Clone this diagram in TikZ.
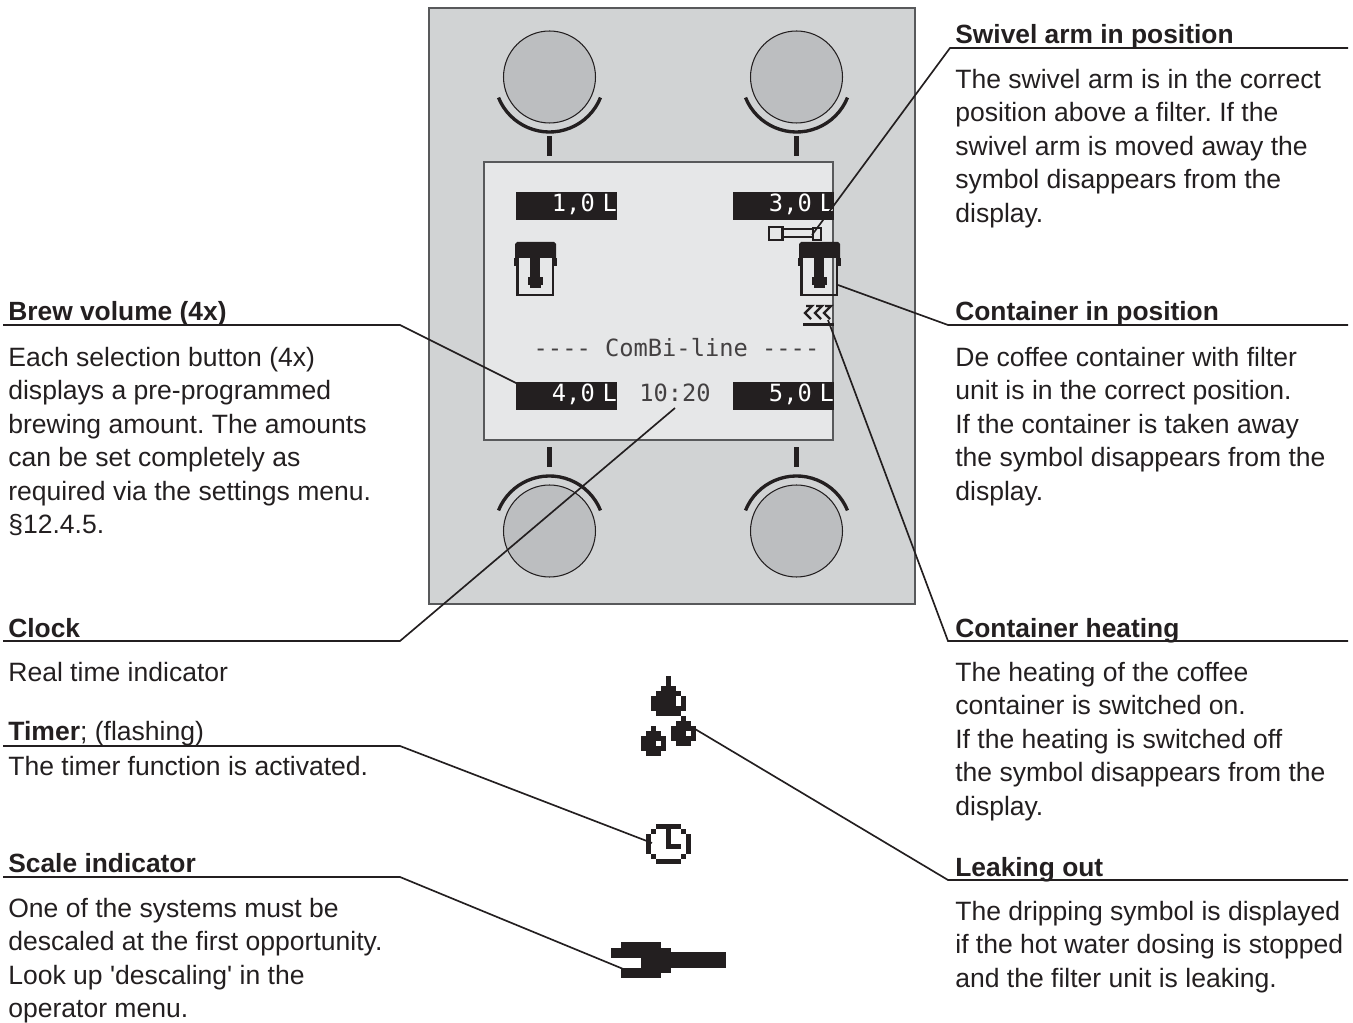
\documentclass[tikz,border=0pt]{standalone}
\usepackage{fontspec}
\setmainfont{Liberation Sans}
\newfontfamily\lcdfont{DejaVu Sans Mono}
\definecolor{ink}{HTML}{231F20}
\definecolor{panel}{HTML}{D1D3D4}
\definecolor{screen}{HTML}{E6E7E8}
\definecolor{knob}{HTML}{BCBEC0}
\definecolor{frame}{HTML}{58595B}
\begin{document}
\frenchspacing
\begin{tikzpicture}[x=0.02cm,y=-0.02cm]
\tikzstyle{Head} = [anchor=base west, inner sep=0, font={\fontsize{15}{19}\selectfont\bfseries}, text=ink]
\tikzstyle{Body} = [anchor=north west, inner sep=0, align=left, font={\fontsize{15.1}{19}\selectfont}, text=ink]
\tikzstyle{Bar} = [fill=ink, text=white, inner sep=0, minimum width=2.02cm, minimum height=0.56cm, text width=2.02cm, text height=10pt, text depth=3.2pt, align=right, font={\lcdfont\fontsize{13.5}{16}\selectfont}]
\tikzstyle{Lcd} = [inner sep=0, text=ink!85, font={\lcdfont\fontsize{13.5}{16}\selectfont}]
\tikzstyle{Knob} = [draw=ink, fill=knob, shape=circle, line width=0.6pt, inner sep=0, minimum size=1.84cm]
\tikzstyle{Lead} = [draw=ink, line width=0.95pt]
\tikzstyle{Ring} = [draw=ink, line width=1.9pt]
\useasboundingbox (0,0) rectangle (1353,1023);
\draw [frame, fill=panel, line width=0.85pt] (429,8) rectangle (915,604);
\draw [frame, fill=screen, line width=0.7pt] (484,162) rectangle (833,440);
% knobs
\node [Knob] (k1) at (549.5,77) {};
\node [Knob] (k2) at (796.5,77) {};
\node [Knob] (k3) at (549.5,531) {};
\node [Knob] (k4) at (796.5,531) {};
\foreach \x in {549.5,796.5} {
  \draw [Ring] (\x,77) ++(158:55) arc (158:22:55);
  \draw [Ring] (\x,531) ++(-158:55) arc (-158:-22:55);
  \fill [ink] (\x-2.5,136) rectangle (\x+2.5,156);
  \fill [ink] (\x-2.5,447) rectangle (\x+2.5,467);
}
% display
\node [Bar] (v1) at (566.5,206) {1,0 L};
\node [Bar] (v3) at (783.5,206) {3,0 L};
\node [Bar] (v4) at (566.5,396) {4,0 L};
\node [Bar] (v5) at (783.5,396) {5,0 L};
\node [Lcd] (v6) at (675,393) {10:20};
\node [Lcd] (v7) at (676.5,348) {---- ComBi-line ----};
% containers
\foreach \s in {0,284} {
  \begin{scope}[xshift=\s*0.02cm]
  \draw [ink, line width=1.2pt] (517.5,258) -- (517.5,295) -- (553.3,295) -- (553.3,258);
  \fill [ink] (517,242) -- (554,242) -- (556,244) -- (556,258) -- (515,258) -- (515,244) -- cycle;
  \foreach \a/\b/\c/\d in {514/258/518/266, 553/258/557/266, 530/258/539.5/278, 527.5/277/543/285, 530/285/541/288}
    \fill [ink] (\a,\b) rectangle (\c,\d);
  \end{scope}
}
% swivel arm
\draw [ink, line width=1.5pt] (769,227) rectangle (782.5,240);
\draw [ink, line width=1.5pt] (782.5,229) rectangle (813,237);
\draw [ink, line width=1.5pt] (813,228) rectangle (821,240);
% heating
\foreach \x in {805,815,824}
  \draw [ink, line width=1.3pt] (\x+1,306) -- (\x+7,306) -- (\x,313) -- (\x+6,319);
\fill [ink] (803,323) rectangle (834,326.5);
% drops
\foreach \a/\b/\c/\d in {666/676/671/686, 661/686/676/691, 656/691/681/696, 651/696/686/711, 656/711/681/716,
  681/716/686/721, 676/721/691/726, 671/726/696/741, 676/741/691/746,
  651/726/656/731, 646/731/661/736, 641/736/666/751, 646/751/661/756}
  \fill [ink] (\a,\b) rectangle (\c,\d);
\foreach \a/\b/\c/\d in {676/696/681/706, 686/731/691/736, 656/741/661/746}
  \fill [white] (\a,\b) rectangle (\c,\d);
% clock
\foreach \a/\b/\c/\d in {656/824/681/829, 656/859/681/864, 646/834/651/854, 686/834/691/854,
  651/829/656/834, 681/829/686/834, 651/854/656/859, 681/854/686/859, 666/829/671/849, 666/844/681/849}
  \fill [ink] (\a,\b) rectangle (\c,\d);
% hand
\foreach \a/\b/\c/\d in {621/942/661/947.5, 611/947.5/671/957.5, 641/952/726/967.5, 621/967.5/671/972.5, 621/972.5/661/977.5}
  \fill [ink] (\a,\b) rectangle (\c,\d);
% right column
\node [Head] (h1) at (955,44) {Swivel arm in position};
\node [Body] (t1) at (955,69) {The swivel arm is in the correct\\position above a filter. If the\\swivel arm is moved away the\\symbol disappears from the\\display.};
\node [Head] (h2) at (955,321) {Container in position};
\node [Body] (t2) at (955,347) {De coffee container with filter\\unit is in the correct position.\\If the container is taken away\\the symbol disappears from the\\display.};
\node [Head] (h3) at (955,638) {Container heating};
\node [Body] (t3) at (955,662) {The heating of the coffee\\container is switched on.\\If the heating is switched off\\the symbol disappears from the\\display.};
\node [Head] (h4) at (955,876) {Leaking out};
\node [Body] (t4) at (955,901) {The dripping symbol is displayed\\if the hot water dosing is stopped\\and the filter unit is leaking.};
% left column
\node [Head] (h5) at (8,321) {Brew volume (4x)};
\node [Body] (t5) at (8,347) {Each selection button (4x)\\displays a pre-programmed\\brewing amount. The amounts\\can be set completely as\\required via the settings menu.\\§12.4.5.};
\node [Head] (h6) at (8,638) {Clock};
\node [Body] (t6) at (8,662) {Real time indicator};
\node [Body, anchor=base west] (h7) at (8,741) {\textbf{Timer}; (flashing)};
\node [Body] (t7) at (8,756) {The timer function is activated.};
\node [Head] (h8) at (8,872) {Scale indicator};
\node [Body] (t8) at (8,898) {One of the systems must be\\descaled at the first opportunity.\\Look up \textquotesingle descaling\textquotesingle{} in the\\operator menu.};
% leader lines
\coordinate (a1) at (1348,48);  \coordinate (b1) at (950,48);  \coordinate (c1) at (812,235);
\coordinate (a2) at (1348,325); \coordinate (b2) at (948,325); \coordinate (c2) at (838,285);
\coordinate (a3) at (1348,641); \coordinate (b3) at (948,641); \coordinate (c3) at (828,320);
\coordinate (a4) at (1348,880); \coordinate (b4) at (948,880); \coordinate (c4) at (695,729);
\coordinate (a5) at (3,325);    \coordinate (b5) at (400,325); \coordinate (c5) at (532,391);
\coordinate (a6) at (3,641);    \coordinate (b6) at (400,641); \coordinate (c6) at (675,408);
\coordinate (a7) at (3,746);    \coordinate (b7) at (400,746); \coordinate (c7) at (652,843);
\coordinate (a8) at (3,877);    \coordinate (b8) at (400,877); \coordinate (c8) at (633,973);
\foreach \i in {1,...,8}
  \draw [Lead] (a\i) -- (b\i) -- (c\i);
\end{tikzpicture}
\end{document}
